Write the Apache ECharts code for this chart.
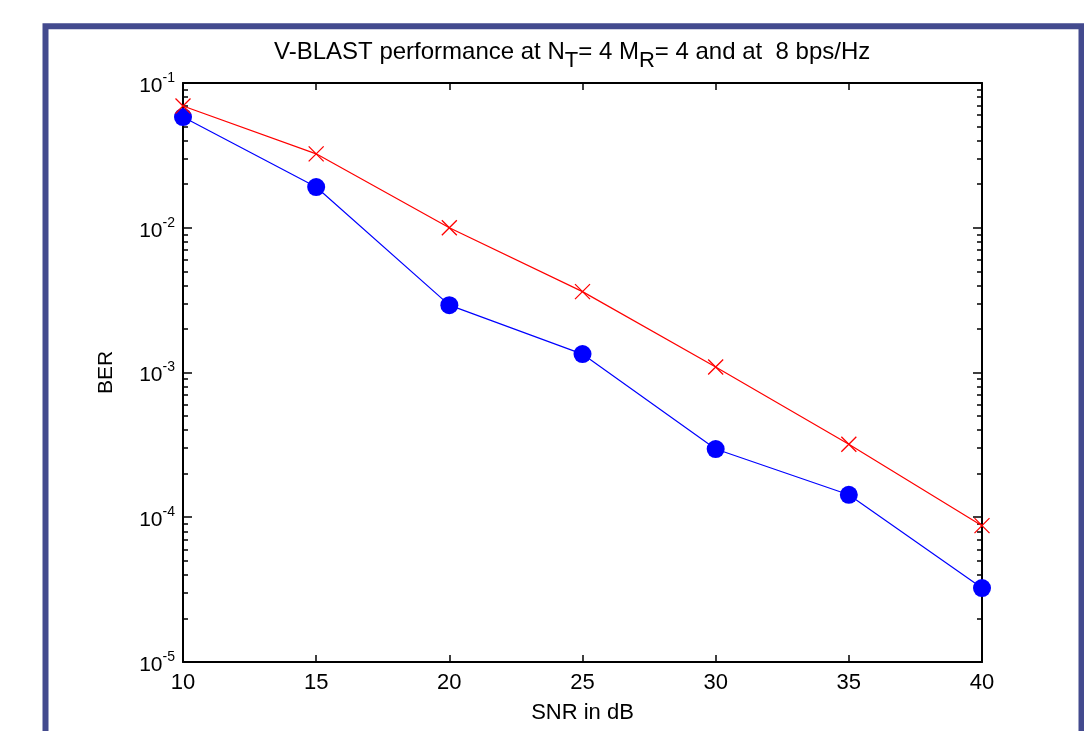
<!DOCTYPE html>
<html>
<head>
<meta charset="utf-8">
<script src="https://cdn.jsdelivr.net/npm/echarts@6/dist/echarts.min.js"></script>
<style>
html,body{margin:0;padding:0;background:#fff;}
#chart{width:1084px;height:731px;}
</style>
</head>
<body>
<div id="chart"></div>
<script>
// ---- data ----
const snr = [10, 15, 20, 25, 30, 35, 40];
const berCircle = [0.0582, 0.0191, 0.00292, 0.00134, 0.000296, 0.000143, 0.0000324];
const berCross = [0.0693, 0.0324, 0.0100, 0.00362, 0.00109, 0.000319, 0.0000875];
const yMajorExponents = [-5, -4, -3, -2, -1];
const xTicks = [10, 15, 20, 25, 30, 35, 40];
const titleParts = ['V-BLAST performance at N', 'T', '= 4 M', 'R', '= 4 and at  8 bps/Hz'];
const xName = 'SNR in dB';
const yName = 'BER';

const FONT = "'Liberation Sans', Arial, Helvetica, sans-serif";
const majorVals = yMajorExponents.map(e => Math.pow(10, e));
const minorVals = [];
yMajorExponents.slice(0, -1).forEach(e => {
  for (let k = 2; k <= 9; k++) minorVals.push(k * Math.pow(10, e));
});

const chart = echarts.init(document.getElementById('chart'), null, {renderer: 'canvas'});

function yAxisBase(pos, showLabel, vals, len, showLine) {
  return {
    type: 'log', logBase: 10, min: 1e-5, max: 1e-1, position: pos,
    axisLine: {show: showLine, onZero: false, lineStyle: {color: '#000', width: 2}},
    axisTick: {show: true, inside: true, length: len, customValues: vals, lineStyle: {color: '#000', width: 1.5}},
    axisLabel: showLabel ? {
      show: true, customValues: vals, margin: 8, padding: [6, 0, 0, 0],
      formatter: v => '{b|10}{s|' + Math.round(Math.log10(v)) + '}',
      rich: {
        b: {fontSize: 21, fontFamily: FONT, color: '#000', lineHeight: 30},
        s: {fontSize: 14, fontFamily: FONT, color: '#000', lineHeight: 14, verticalAlign: 'top'}
      }
    } : {show: false},
    splitLine: {show: false},
    minorTick: {show: false}
  };
}

const option = {
  backgroundColor: '#fff',
  animation: false,
  title: {
    text: '{n|' + titleParts[0] + '}{s|' + titleParts[1] + '}{n|' + titleParts[2] + '}{s|' + titleParts[3] + '}{n|' + titleParts[4] + '}',
    left: 274, top: 40, padding: 0,
    textStyle: {
      fontWeight: 'normal',
      rich: {
        n: {fontSize: 24, fontWeight: 'normal', fontFamily: FONT, color: '#000', lineHeight: 25, verticalAlign: 'top'},
        s: {fontSize: 22, fontWeight: 'normal', fontFamily: FONT, color: '#000', lineHeight: 32, verticalAlign: 'bottom'}
      }
    }
  },
  graphic: [{
    type: 'rect', silent: true, z: 100,
    shape: {x: 45.5, y: 26.3, width: 1036, height: 800},
    style: {fill: 'none', stroke: '#434a8e', lineWidth: 6}
  }],
  grid: {left: 183, top: 83, right: 102, bottom: 69, containLabel: false},
  xAxis: [{
    type: 'value', min: 10, max: 40, interval: 5, position: 'bottom',
    name: xName, nameLocation: 'middle', nameGap: 40,
    nameTextStyle: {fontSize: 22, fontFamily: FONT, color: '#000'},
    axisLine: {show: true, onZero: false, lineStyle: {color: '#000', width: 2}},
    axisTick: {show: true, inside: true, length: 7, customValues: xTicks, lineStyle: {color: '#000', width: 1.5}},
    axisLabel: {show: true, margin: 10, fontSize: 22, fontFamily: FONT, color: '#000', customValues: xTicks},
    splitLine: {show: false}
  }, {
    type: 'value', min: 10, max: 40, interval: 5, position: 'top',
    axisLine: {show: true, onZero: false, lineStyle: {color: '#000', width: 2}},
    axisTick: {show: true, inside: true, length: 7, customValues: xTicks, lineStyle: {color: '#000', width: 1.5}},
    axisLabel: {show: false},
    splitLine: {show: false}
  }],
  yAxis: [
    Object.assign(yAxisBase('left', true, majorVals, 9, true), {
      name: yName, nameLocation: 'middle', nameGap: 66, nameRotate: 90,
      nameTextStyle: {fontSize: 21, fontFamily: FONT, color: '#000'}
    }),
    yAxisBase('left', false, minorVals, 5, false),
    yAxisBase('right', false, majorVals, 9, true),
    yAxisBase('right', false, minorVals, 5, false)
  ],
  series: [{
    type: 'line', xAxisIndex: 0, yAxisIndex: 0,
    data: snr.map((x, i) => [x, berCircle[i]]),
    symbol: 'circle', symbolSize: 18,
    itemStyle: {color: '#0000ff'},
    lineStyle: {color: '#0000ff', width: 1.2},
    z: 2
  }, {
    type: 'line', xAxisIndex: 0, yAxisIndex: 0,
    data: snr.map((x, i) => [x, berCross[i]]),
    symbol: 'path://M0,0L10,10M10,0L0,10', symbolSize: 15,
    itemStyle: {color: 'rgba(0,0,0,0)', borderColor: '#ff0000', borderWidth: 1.3},
    lineStyle: {color: '#ff0000', width: 1.2},
    z: 3
  }]
};
chart.setOption(option);
</script>
</body>
</html>
